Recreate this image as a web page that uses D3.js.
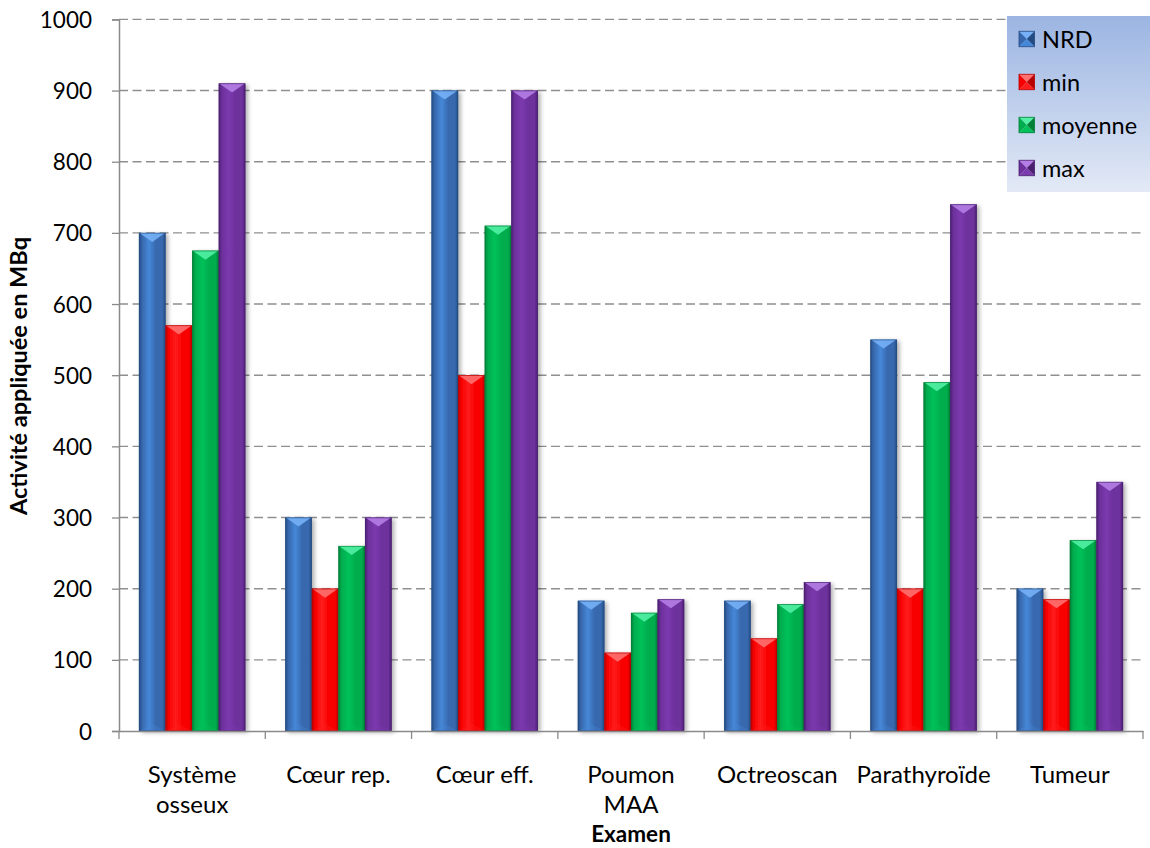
<!DOCTYPE html>
<html>
<head>
<meta charset="utf-8">
<script src="https://cdn.jsdelivr.net/npm/d3@7/dist/d3.min.js"></script>
<style>
  html, body { margin: 0; padding: 0; background: #ffffff; }
  svg { display: block; }
  text { font-family: Lato, "Open Sans", sans-serif; fill: #000; }
</style>
</head>
<body>
<svg id="chart" width="1150" height="848"></svg>
<script>
// Examens (two-line labels split on "\n")
const categories = ["Système\nosseux", "Cœur rep.", "Cœur eff.", "Poumon\nMAA", "Octreoscan", "Parathyroïde", "Tumeur"];
const seriesNames = ["NRD", "min", "moyenne", "max"];

// Activité appliquée (MBq)
const nrdValues     = [700, 300, 900, 183, 183, 550, 200];
const minValues     = [570, 200, 500, 110, 130, 200, 185];
const moyenneValues = [675, 260, 710, 166, 178, 490, 268];
const maxValues     = [910, 300, 900, 185, 209, 740, 350];

const yTicks = [0, 100, 200, 300, 400, 500, 600, 700, 800, 900, 1000];

const seriesValues = [nrdValues, minValues, moyenneValues, maxValues];

// Shading per series: edge, base, highlight, top facet
const palette = {
  "NRD":     { edge: "#234b82", base: "#3768ad", light: "#4688d8", cap: "#76b0f6" },
  "min":     { edge: "#b80000", base: "#f80000", light: "#ff1c1c", cap: "#ff7070" },
  "moyenne": { edge: "#007f37", base: "#00ad4e", light: "#00c15a", cap: "#52f0a4" },
  "max":     { edge: "#4a1f70", base: "#6d309c", light: "#7b3aae", cap: "#b47ee6" }
};

const svg = d3.select("#chart");
const plotLeft = 119, plotRight = 1143, plotTop = 19.4, plotBottom = 731;
const fontSize = 23.5;

const defs = svg.append("defs");
seriesNames.forEach((s, i) => {
  const c = palette[s];
  const g = defs.append("linearGradient").attr("id", "bar-grad-" + i)
    .attr("x1", "0").attr("x2", "1").attr("y1", "0").attr("y2", "0");
  [[0, c.edge], [0.12, c.base], [0.38, c.light], [0.64, c.base], [0.88, c.base], [1, c.edge]]
    .forEach(([o, col]) => g.append("stop").attr("offset", o).attr("stop-color", col));
});
const lg = defs.append("linearGradient").attr("id", "legend-grad")
  .attr("x1", "0").attr("x2", "0").attr("y1", "0").attr("y2", "1");
lg.append("stop").attr("offset", 0).attr("stop-color", "#9bb5e2");
lg.append("stop").attr("offset", 1).attr("stop-color", "#e3e9f6");
const shadow = defs.append("filter").attr("id", "bar-shadow")
  .attr("x", "-30%").attr("y", "-10%").attr("width", "160%").attr("height", "120%");
shadow.append("feDropShadow").attr("dx", 2.5).attr("dy", 1.5)
  .attr("stdDeviation", 2.2).attr("flood-color", "#000").attr("flood-opacity", 0.32);

const x0 = d3.scaleBand().domain(categories).range([plotLeft, plotRight]).padding(0);
const bw = x0.bandwidth();
const gapFrac = 0.75 / 5.5; // gap width 150 % of a bar, split on both sides
const x1 = d3.scaleBand().domain(seriesNames)
  .range([bw * gapFrac, bw * (1 - gapFrac)]).padding(0);
const y = d3.scaleLinear().domain([0, 1000]).range([plotBottom, plotTop]);

// Horizontal dashed gridlines
svg.append("g").selectAll("line").data(yTicks.filter(t => t > 0)).join("line")
  .attr("x1", plotLeft).attr("x2", plotRight)
  .attr("y1", d => y(d)).attr("y2", d => y(d))
  .attr("stroke", "#8f8f8f").attr("stroke-width", 1.4)
  .attr("stroke-dasharray", "9,4.5");

// Bars
const barLayer = svg.append("g");
categories.forEach((cat, ci) => {
  seriesNames.forEach((s, si) => {
    const v = seriesValues[si][ci];
    const bx = x0(cat) + x1(s), w = x1.bandwidth();
    const by = y(v), h = y(0) - y(v);
    const c = palette[s];
    const g = barLayer.append("g");
    g.append("rect").attr("x", bx).attr("y", by).attr("width", w).attr("height", h)
      .attr("fill", "url(#bar-grad-" + si + ")").attr("filter", "url(#bar-shadow)");
    const capH = Math.min(9, h / 2);
    g.append("polygon")
      .attr("points", [[bx + 0.5, by], [bx + w - 0.5, by], [bx + w / 2, by + capH]].map(p => p.join(",")).join(" "))
      .attr("fill", c.cap).attr("opacity", 0.9);
    g.append("polygon")
      .attr("points", [[bx, by + h], [bx + w, by + h], [bx + w / 2, by + h - Math.min(7, h / 2)]].map(p => p.join(",")).join(" "))
      .attr("fill", c.light).attr("opacity", 0.35);
    g.append("rect").attr("x", bx + 0.3).attr("y", by + 0.3).attr("width", w - 0.6).attr("height", h - 0.6)
      .attr("fill", "none").attr("stroke", c.edge).attr("stroke-width", 0.8).attr("opacity", 0.8);
  });
});

// Axes
const axisColor = "#8a8a8a";
const yAxis = svg.append("g").attr("transform", `translate(${plotLeft},0)`)
  .call(d3.axisLeft(y).tickValues(yTicks).tickSize(7).tickFormat(""));
yAxis.select(".domain").attr("stroke", axisColor).attr("stroke-width", 1.5);
yAxis.selectAll(".tick line").attr("stroke", axisColor).attr("stroke-width", 1.3);

const xAxis = svg.append("g").attr("transform", `translate(0,${plotBottom})`)
  .call(d3.axisBottom(x0).tickSize(0).tickFormat(""));
xAxis.select(".domain").attr("stroke", axisColor).attr("stroke-width", 1.5);
const bounds = categories.map(c => x0(c)).concat([plotRight]);
svg.append("g").selectAll("line").data(bounds).join("line")
  .attr("x1", d => d).attr("x2", d => d).attr("y1", plotBottom).attr("y2", plotBottom + 8)
  .attr("stroke", axisColor).attr("stroke-width", 1.3);

// Text helper
function label(parent, x, yPos, str, opts = {}) {
  const g = parent.append("g")
    .attr("transform", `translate(${x},${yPos})${opts.rotate ? " rotate(" + opts.rotate + ")" : ""}`);
  return g.append("text").attr("x", 0).attr("y", 0)
    .attr("text-anchor", opts.anchor || "middle")
    .attr("dominant-baseline", "central")
    .style("font-size", (opts.size || fontSize) + "px")
    .style("font-weight", opts.weight || "normal")
    .text(str);
}

// Y tick labels
yTicks.forEach(t => label(svg, 92, y(t), t, { anchor: "end", size: fontSize - 1 }));

// X category labels
categories.forEach(cat => {
  const cx = x0(cat) + bw / 2;
  cat.split("\n").forEach((line, li) => label(svg, cx, 773 + li * 30, line, { size: 24 }));
});

// Axis titles
label(svg, 631, 833, "Examen", { weight: "bold", size: 22.5 });
label(svg, 18, 376, "Activité appliquée en MBq", { weight: "bold", rotate: -90 });

// Legend
const leg = svg.append("g");
leg.append("rect").attr("x", 1007).attr("y", 16).attr("width", 143).attr("height", 176)
  .attr("fill", "url(#legend-grad)");
seriesNames.forEach((s, i) => {
  const cy = 39 + i * 43, sx0 = 1019, sz = 15.5, c = palette[s];
  const x2 = sx0 + sz, y1 = cy - sz / 2, y2 = cy + sz / 2, mx = sx0 + sz / 2;
  const tri = (pts, fill) => leg.append("polygon").attr("points", pts.map(p => p.join(",")).join(" ")).attr("fill", fill);
  tri([[sx0, y1], [x2, y1], [mx, cy]], c.cap);
  tri([[sx0, y1], [mx, cy], [sx0, y2]], c.base);
  tri([[x2, y1], [mx, cy], [x2, y2]], c.edge);
  tri([[sx0, y2], [mx, cy], [x2, y2]], c.light);
  leg.append("rect").attr("x", sx0).attr("y", y1).attr("width", sz).attr("height", sz)
    .attr("fill", "none").attr("stroke", c.edge).attr("stroke-width", 0.8);
  label(leg, 1042, cy, s, { anchor: "start" });
});
</script>
</body>
</html>
